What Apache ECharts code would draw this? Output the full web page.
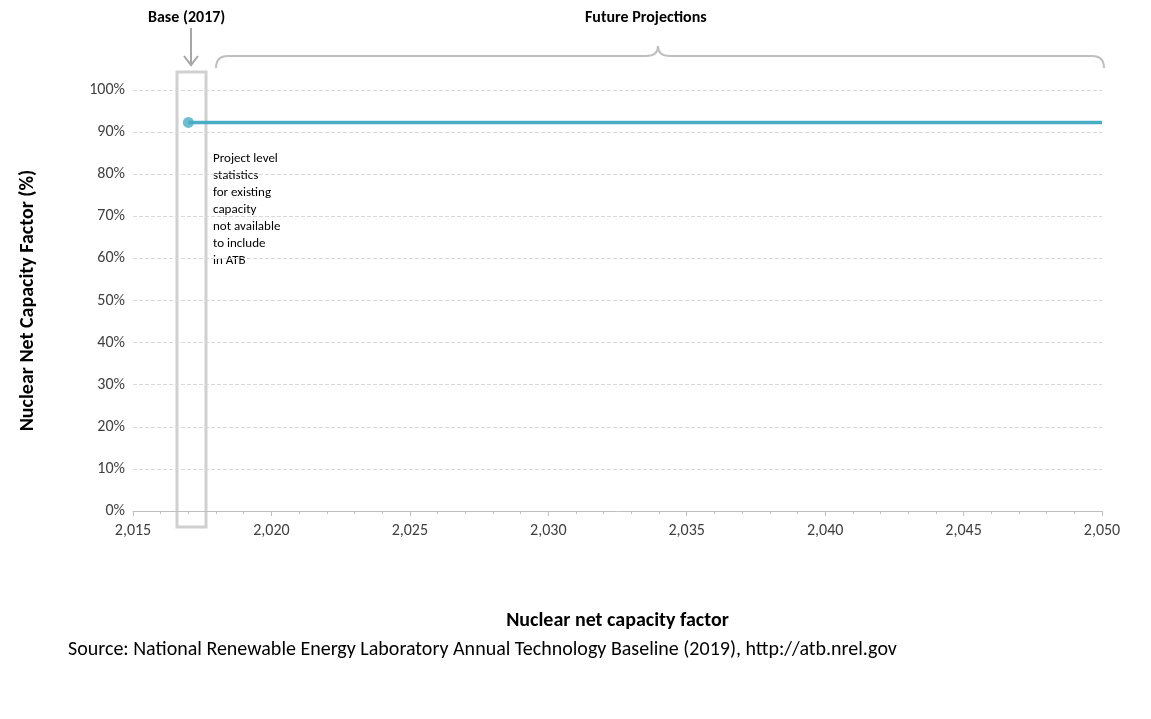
<!DOCTYPE html>
<html>
<head>
<meta charset="utf-8">
<script src="https://cdn.jsdelivr.net/npm/echarts@6/dist/echarts.min.js"></script>
<style>html,body{margin:0;padding:0;background:#fff}#main{width:1151px;height:719px}</style>
</head>
<body>
<div id="main"></div>
<script>
// data
var years = [2017, 2018, 2019, 2020, 2025, 2030, 2035, 2040, 2045, 2050];
var capacityFactor = [92.3, 92.3, 92.3, 92.3, 92.3, 92.3, 92.3, 92.3, 92.3, 92.3];
var baseYear = 2017;

var chart = echarts.init(document.getElementById('main'));
var font = 'Calibri, Carlito, "Open Sans", sans-serif';
var lineData = years.map(function (y, i) { return [y, capacityFactor[i]]; });
var grey = '#bfbfbf';

chart.setOption({
  animation: false,
  grid: { left: 133, right: 49, top: 90, bottom: 208 },
  xAxis: {
    type: 'value', min: 2015, max: 2050, interval: 5,
    axisLine: { lineStyle: { color: grey } },
    axisTick: { show: true, length: 5, lineStyle: { color: grey } },
    minorTick: { show: true, splitNumber: 5, length: 3, lineStyle: { color: grey } },
    splitLine: { show: false },
    axisLabel: { color: '#404040', fontSize: 16, fontFamily: font, margin: 12 },
    name: 'Nuclear net capacity factor', nameLocation: 'middle', nameGap: 100,
    nameTextStyle: { color: '#000', fontSize: 20, fontWeight: 'bold', fontFamily: font }
  },
  yAxis: {
    type: 'value', min: 0, max: 100, interval: 10,
    axisLine: { show: false }, axisTick: { show: false },
    splitLine: { lineStyle: { color: '#d9d9d9', type: 'dashed' } },
    axisLabel: { color: '#404040', fontSize: 16, fontFamily: font, formatter: '{value}%' },
    name: 'Nuclear Net Capacity Factor (%)', nameLocation: 'middle', nameGap: 95,
    nameTextStyle: { color: '#000', fontSize: 20, fontWeight: 'bold', fontFamily: font }
  },
  series: [{
    type: 'line', data: lineData, symbol: 'none',
    lineStyle: { color: '#4bacc6', width: 3.5 }
  }, {
    type: 'scatter', data: [[baseYear, capacityFactor[0]]], symbolSize: 11,
    itemStyle: { color: '#4bacc6' }
  }],
  graphic: [
    { type: 'rect', shape: { x: 177, y: 72, width: 29, height: 455 }, style: { fill: 'none', stroke: '#d0d0d0', lineWidth: 3 } },
    { type: 'line', shape: { x1: 191, y1: 28, x2: 191, y2: 64 }, style: { stroke: '#a6a6a6', lineWidth: 2 } },
    { type: 'polyline', shape: { points: [[184, 56], [191, 65], [198, 56]] }, style: { stroke: '#a6a6a6', lineWidth: 2, fill: 'none' } },
    { type: 'text', x: 148, y: 10, style: { text: 'Base (2017)', font: 'bold 16px ' + font, fill: '#000' } },
    { type: 'text', x: 585, y: 10, style: { text: 'Future Projections', font: 'bold 16px ' + font, fill: '#000' } },
    { type: 'bezierCurve', shape: { x1: 216, y1: 68, x2: 228, y2: 56, cpx1: 216, cpy1: 56 }, style: { stroke: grey, lineWidth: 2, fill: 'none' } },
    { type: 'line', shape: { x1: 228, y1: 56, x2: 646, y2: 56 }, style: { stroke: grey, lineWidth: 2 } },
    { type: 'bezierCurve', shape: { x1: 646, y1: 56, x2: 658, y2: 46, cpx1: 658, cpy1: 56 }, style: { stroke: grey, lineWidth: 2, fill: 'none' } },
    { type: 'bezierCurve', shape: { x1: 658, y1: 46, x2: 670, y2: 56, cpx1: 658, cpy1: 56 }, style: { stroke: grey, lineWidth: 2, fill: 'none' } },
    { type: 'line', shape: { x1: 670, y1: 56, x2: 1092, y2: 56 }, style: { stroke: grey, lineWidth: 2 } },
    { type: 'bezierCurve', shape: { x1: 1092, y1: 56, x2: 1104, y2: 68, cpx1: 1104, cpy1: 56 }, style: { stroke: grey, lineWidth: 2, fill: 'none' } },
    { type: 'text', x: 213, y: 150, style: { text: 'Project level\nstatistics\nfor existing\ncapacity\nnot available\nto include\nin ATB', font: '13px ' + font, fill: '#000', lineHeight: 17 } },
    { type: 'text', x: 68, y: 640, style: { text: 'Source: National Renewable Energy Laboratory Annual Technology Baseline (2019), http://atb.nrel.gov', font: '20px ' + font, fill: '#000' } }
  ]
});
</script>
</body>
</html>
